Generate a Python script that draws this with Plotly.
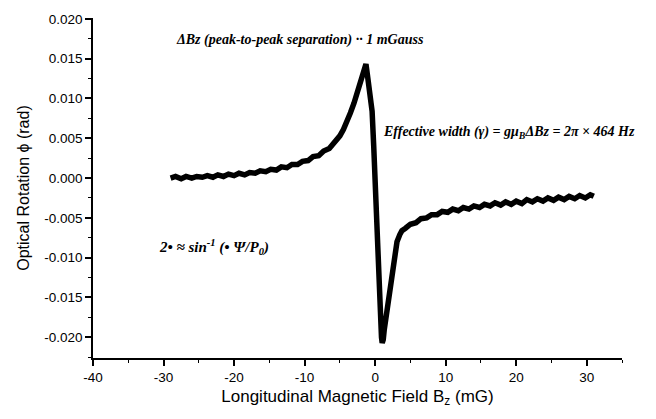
import plotly.graph_objects as go

# Longitudinal magnetic field (mG) and optical rotation (rad)
bz = [-29, -28.3, -27.5, -26.8, -26, -25.3, -24.5, -23.8, -23, -22.3, -21.5, -20.8,
      -20, -19.3, -18.5, -17.8, -17, -16.3, -15.5, -14.8, -14, -13.3, -12.5, -11.8,
      -11, -10.3, -9.5, -8.8, -8, -7.3, -6.5, -6, -5.5, -5, -4.5, -4, -3.5, -3, -2.5, -2,
      -1.7, -1.45, -1.3, -1.1, -0.85, -0.6, -0.43, -0.2, 0.0, 0.2, 0.43, 0.6, 0.75,
      0.9, 1.0, 1.15, 1.3, 1.6, 1.85, 2.1, 2.4, 2.75, 3.1, 3.5, 3.8, 4.3, 5, 5.8, 6.5,
      7.3, 8, 8.8, 9.5, 10.3, 11, 11.8, 12.5, 13.3, 14, 14.8, 15.5, 16.3, 17, 17.8,
      18.5, 19.3, 20, 20.8, 21.5, 22.3, 23, 23.8, 24.5, 25.3, 26, 26.8, 27.5, 28.3,
      29, 29.8, 30.5, 31]
phi = [0.0000, 0.0002, -0.0001, 0.0002, 0.0000, 0.0002, 0.0001, 0.0003, 0.0001,
       0.0004, 0.0002, 0.0005, 0.0003, 0.0006, 0.0004, 0.0007, 0.0006, 0.0009,
       0.0008, 0.0011, 0.0010, 0.0014, 0.0013, 0.0017, 0.0017, 0.0021, 0.0022,
       0.0027, 0.0028, 0.0034, 0.0037, 0.0042, 0.0047, 0.0053, 0.0061, 0.0070,
       0.0082, 0.0094, 0.0109, 0.0124, 0.0134, 0.0141, 0.0143, 0.0130, 0.0112,
       0.0097, 0.0084, 0.0040, -0.0005, -0.0060, -0.0125, -0.0160, -0.0185,
       -0.0200, -0.0207, -0.0203, -0.0190, -0.0170, -0.0155, -0.0138, -0.0117,
       -0.0097, -0.0080, -0.0071, -0.0066, -0.0063, -0.0058, -0.0056, -0.0051,
       -0.0050, -0.0046, -0.0046, -0.0042, -0.0043, -0.0039, -0.0041, -0.0037,
       -0.0039, -0.0035, -0.0037, -0.0033, -0.0035, -0.0031, -0.0034, -0.0030,
       -0.0033, -0.0029, -0.0032, -0.0027, -0.0030, -0.0026, -0.0029, -0.0025,
       -0.0028, -0.0024, -0.0027, -0.0023, -0.0026, -0.0022, -0.0025, -0.0021,
       -0.0023]

x_tick_vals = [-40, -30, -20, -10, 0, 10, 20, 30]
x_tick_text = ["-40", "-30", "-20", "-10", "0", "10", "20", "30"]
y_tick_vals = [-0.020, -0.015, -0.010, -0.005, 0.0, 0.005, 0.010, 0.015, 0.020]
y_tick_text = ["-0.020", "-0.015", "-0.010", "-0.005", "0.000", "0.005", "0.010",
               "0.015", "0.020"]

fig = go.Figure()
fig.add_trace(go.Scatter(x=bz, y=phi, mode="lines",
                         line=dict(color="black", width=5.5, shape="linear"),
                         showlegend=False))

ann_font = dict(family="Liberation Serif", size=14, color="black")
fig.add_annotation(x=0.391, y=0.934, xref="paper", yref="paper", yanchor="middle",
                   text="<b><i>ΔBz (peak-to-peak separation) ·· 1 mGauss</i></b>",
                   showarrow=False, font=ann_font)
fig.add_annotation(x=1.028, y=0.662, xref="paper", yref="paper", xanchor="right",
                   yanchor="middle",
                   text="<b><i>Effective width (γ) = gμ<sub>B</sub>ΔBz = 2π × 464 Hz</i></b>",
                   showarrow=False, font=ann_font)
fig.add_annotation(x=0.121, y=0.327, xref="paper", yref="paper", xanchor="left",
                   yanchor="middle",
                   text="<b><i>2• ≈ sin<sup>-1</sup> (• Ψ/P<sub>0</sub>)</i></b>",
                   showarrow=False, font=dict(family="Liberation Serif", size=15,
                                              color="black"))

axis_common = dict(showline=True, linecolor="black", linewidth=1.5, ticks="outside",
                   ticklen=6, tickwidth=1.5, tickcolor="black", showgrid=False,
                   zeroline=False, mirror=False, ticklabeloverflow="allow",
                   tickfont=dict(family="Liberation Sans", size=13.5, color="black"))

fig.update_xaxes(range=[-40, 35], tickvals=x_tick_vals, ticktext=x_tick_text,
                 minor=dict(ticks="outside", dtick=5, tick0=0, ticklen=3,
                            tickcolor="black", tickwidth=1.2),
                 title=dict(text="Longitudinal Magnetic Field B<sub>z</sub> (mG)",
                            font=dict(family="Liberation Sans", size=17, color="black"),
                            standoff=6),
                 **axis_common)
fig.update_yaxes(range=[-0.0226, 0.0201], tickvals=y_tick_vals, ticktext=y_tick_text,
                 minor=dict(ticks="outside", dtick=0.0025, tick0=0, ticklen=3,
                            tickcolor="black", tickwidth=1.2),
                 title=dict(text="Optical Rotation ϕ (rad)",
                            font=dict(family="Liberation Sans", size=16, color="black"),
                            standoff=11),
                 **axis_common)

# page body has an 8px default margin; margins compensate so the plot area matches
fig.update_layout(width=656, height=419, plot_bgcolor="white", paper_bgcolor="white",
                  margin=dict(l=85, r=42, t=4, b=69))

fig.write_html("out.html")
